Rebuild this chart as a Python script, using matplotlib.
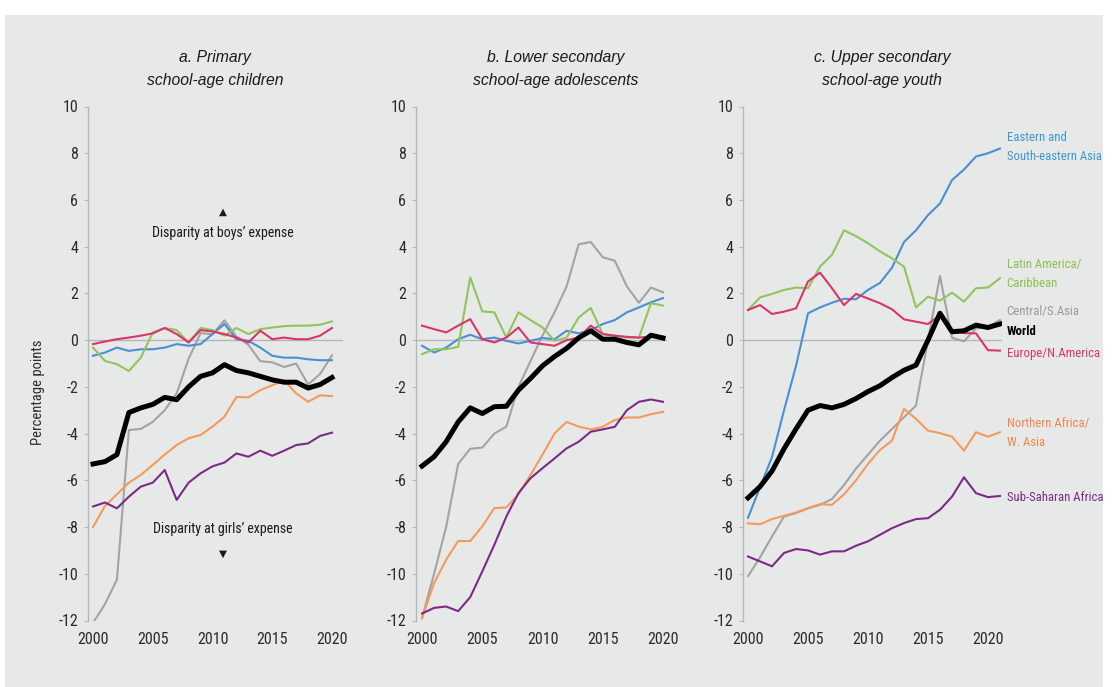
import matplotlib
matplotlib.use("Agg")
import matplotlib.pyplot as plt
from matplotlib.patches import Rectangle
from matplotlib import font_manager as fm

# ---------------- data ----------------
years_ab = list(range(2000, 2021))
years_c = list(range(2000, 2022))

# a. Primary school-age children
a_world = [-5.3, -5.2, -4.9, -3.1, -2.9, -2.75, -2.45, -2.55, -2.0, -1.55, -1.4, -1.05,
           -1.3, -1.4, -1.55, -1.7, -1.8, -1.8, -2.05, -1.9, -1.6]
a_nafrica = [-8.0, -7.1, -6.6, -6.1, -5.77, -5.34, -4.9, -4.49, -4.2, -4.06, -3.7, -3.28,
             -2.43, -2.45, -2.14, -1.93, -1.72, -2.28, -2.64, -2.36, -2.4]
a_ssa = [-7.12, -6.95, -7.2, -6.7, -6.27, -6.1, -5.56, -6.84, -6.1, -5.7, -5.4, -5.24,
         -4.85, -4.99, -4.73, -4.95, -4.73, -4.49, -4.42, -4.1, -3.96]
a_csasia = [-12.1, -11.3, -10.25, -3.85, -3.8, -3.5, -3.0, -2.28, -0.8, 0.3, 0.25, 0.85,
            0.15, -0.2, -0.9, -0.95, -1.15, -1.0, -1.9, -1.45, -0.65]
a_latam = [-0.32, -0.89, -1.03, -1.32, -0.75, 0.33, 0.52, 0.43, -0.1, 0.52, 0.43, 0.19,
           0.52, 0.26, 0.47, 0.54, 0.6, 0.62, 0.62, 0.66, 0.8]
a_europe = [-0.17, -0.06, 0.04, 0.11, 0.19, 0.29, 0.52, 0.26, -0.1, 0.43, 0.37, 0.26,
            0.11, -0.1, 0.4, 0.04, 0.11, 0.04, 0.04, 0.19, 0.52]
a_easia = [-0.67, -0.53, -0.32, -0.46, -0.39, -0.39, -0.32, -0.17, -0.24, -0.17, 0.26, 0.69,
           0.04, -0.03, -0.32, -0.67, -0.75, -0.75, -0.82, -0.86, -0.86]

# b. Lower secondary school-age adolescents
b_world = [-5.39, -4.99, -4.35, -3.5, -2.9, -3.14, -2.85, -2.83, -2.14, -1.64, -1.1, -0.7,
           -0.35, 0.1, 0.4, 0.04, 0.04, -0.1, -0.2, 0.21, 0.09]
b_nafrica = [-11.9, -10.4, -9.4, -8.6, -8.6, -7.97, -7.19, -7.16, -6.6, -5.77, -4.9, -3.99,
             -3.5, -3.7, -3.82, -3.71, -3.42, -3.31, -3.31, -3.17, -3.07]
b_ssa = [-11.7, -11.46, -11.4, -11.6, -11.0, -9.9, -8.76, -7.55, -6.55, -5.91, -5.48, -5.06,
         -4.63, -4.35, -3.92, -3.82, -3.71, -3.0, -2.64, -2.54, -2.64]
b_csasia = [-11.9, -10.0, -8.0, -5.3, -4.65, -4.6, -4.0, -3.7, -2.0, -0.9, 0.2, 1.2,
            2.3, 4.1, 4.2, 3.55, 3.4, 2.3, 1.6, 2.25, 2.05]
b_latam = [-0.6, -0.39, -0.39, -0.29, 2.69, 1.23, 1.19, 0.11, 1.19, 0.86, 0.54, -0.03,
           0.11, 0.97, 1.38, 0.26, 0.19, 0.11, 0.11, 1.58, 1.48]
b_europe = [0.62, 0.47, 0.33, 0.62, 0.9, 0.04, -0.1, 0.11, 0.54, -0.1, -0.17, -0.24,
            0.0, 0.11, 0.62, 0.26, 0.19, 0.14, 0.11, 0.15, 0.15]
b_easia = [-0.24, -0.53, -0.32, 0.04, 0.23, 0.04, 0.11, -0.03, -0.14, -0.03, 0.09, 0.04,
           0.4, 0.29, 0.43, 0.69, 0.86, 1.19, 1.4, 1.62, 1.8]

# c. Upper secondary school-age youth
c_world = [-6.75, -6.27, -5.6, -4.65, -3.8, -3.0, -2.8, -2.9, -2.75, -2.5, -2.2, -1.95,
           -1.6, -1.29, -1.07, 0.0, 1.15, 0.36, 0.4, 0.64, 0.54, 0.69]
c_nafrica = [-7.84, -7.88, -7.66, -7.52, -7.38, -7.19, -7.02, -7.05, -6.6, -6.0, -5.3, -4.7,
             -4.3, -2.94, -3.37, -3.87, -3.98, -4.13, -4.73, -3.94, -4.13, -3.94]
c_ssa = [-9.26, -9.47, -9.68, -9.11, -8.94, -9.0, -9.18, -9.04, -9.04, -8.8, -8.61, -8.33,
         -8.05, -7.83, -7.66, -7.62, -7.26, -6.7, -5.87, -6.55, -6.72, -6.67]
c_csasia = [-10.1, -9.3, -8.4, -7.55, -7.4, -7.2, -7.05, -6.8, -6.2, -5.5, -4.9, -4.3,
            -3.8, -3.3, -2.8, 0.0, 2.75, 0.1, -0.05, 0.5, 0.57, 0.86]
c_latam = [1.29, 1.83, 1.98, 2.15, 2.25, 2.22, 3.15, 3.65, 4.7, 4.45, 4.15, 3.8,
           3.5, 3.15, 1.4, 1.86, 1.69, 2.03, 1.65, 2.22, 2.25, 2.65]
c_europe = [1.29, 1.5, 1.12, 1.22, 1.36, 2.51, 2.89, 2.22, 1.5, 1.98, 1.78, 1.58,
            1.32, 0.89, 0.79, 0.69, 1.07, 0.4, 0.3, 0.29, -0.43, -0.45]
c_easia = [-7.6, -6.3, -5.0, -3.0, -1.1, 1.15, 1.4, 1.6, 1.77, 1.75, 2.15, 2.45,
           3.1, 4.2, 4.7, 5.35, 5.85, 6.85, 7.3, 7.86, 8.0, 8.2]

panel_titles = ["a. Primary\nschool-age children",
                "b. Lower secondary\nschool-age adolescents",
                "c. Upper secondary\nschool-age youth"]
region_labels = ["Eastern and\nSouth-eastern Asia", "Latin America/\nCaribbean", "Central/S.Asia",
                 "World", "Europe/N.America", "Northern Africa/\nW. Asia", "Sub-Saharan Africa"]
region_label_y = [8.25, 2.81, 1.24, 0.38, -0.57, -3.96, -6.73]
yticks = list(range(-12, 11, 2))
xticks = [2000, 2005, 2010, 2015, 2020]
ylabel_text = "Percentage points"
boys_text = "Disparity at boys\u2019 expense"
girls_text = "Disparity at girls\u2019 expense"

# ---------------- fonts ----------------
plt.rcParams['axes.unicode_minus'] = False


def _wnum(w):
    if isinstance(w, str):
        return fm.weight_dict.get(w, 400)
    return w


def find_condensed(bold=False, italic=False):
    prefs = ["Liberation Sans Narrow", "Roboto Condensed", "Open Sans Condensed",
             "Noto Sans", "Open Sans", "Roboto", "DejaVu Sans", "Liberation Sans"]
    cands = []
    for f in fm.fontManager.ttflist:
        cond = f.stretch not in ("normal", "expanded", "semi-expanded", "extra-expanded",
                                 "ultra-expanded", 500, 600, 700, 800, 900) or \
            "Narrow" in f.name or "Condensed" in f.name
        if not cond:
            continue
        if f.name not in prefs:
            continue
        w = _wnum(f.weight)
        if bold and w < 600:
            continue
        if not bold and not (350 <= w <= 500):
            continue
        if italic != (f.style in ("italic", "oblique")):
            continue
        cands.append((prefs.index(f.name), f.fname))
    if cands:
        cands.sort()
        return cands[0][1]
    return None


COND = find_condensed()
COND_B = find_condensed(bold=True)
SHRINK = 1.0 if COND else 0.84


def fp(size, bold=False):
    path = COND_B if bold else COND
    if path:
        return fm.FontProperties(fname=path, size=size)
    return fm.FontProperties(family=["Liberation Sans", "DejaVu Sans"], size=size * SHRINK,
                             weight="bold" if bold else "normal")


plt.rcParams['font.family'] = ['Liberation Sans', 'DejaVu Sans']

BG = "#e7e9e8"
COL = {
    "easia": "#4a8fd4",
    "latam": "#92c45c",
    "csasia": "#a3a3a3",
    "world": "#000000",
    "europe": "#d8356a",
    "nafrica": "#f49a5c",
    "ssa": "#7b2a86",
}
TXT = {
    "easia": "#3b98cf",
    "latam": "#8cc04e",
    "csasia": "#9a9a9a",
    "world": "#000000",
    "europe": "#d8356a",
    "nafrica": "#f0864a",
    "ssa": "#7b2a86",
}

W, H = 1116, 687
fig = plt.figure(figsize=(W / 100, H / 100), dpi=100)
fig.patch.set_facecolor("white")
fig.patches.append(Rectangle((5 / W, 0), (1103 - 5) / W, (H - 15) / H,
                             transform=fig.transFigure, facecolor=BG, edgecolor="none", zorder=-10))

top_px, bot_px = 106.5, 620.5
bottom = 1 - bot_px / H
height = (bot_px - top_px) / H

geoms = [
    (88, 343, 1999.58, 2020.92),
    (416, 667, 1999.50, 2020.33),
    (743, 1002, 1999.58, 2021.17),
]
title_cx = [215, 556, 882]

panels = [
    (years_ab, a_easia, a_latam, a_csasia, a_europe, a_nafrica, a_ssa, a_world),
    (years_ab, b_easia, b_latam, b_csasia, b_europe, b_nafrica, b_ssa, b_world),
    (years_c, c_easia, c_latam, c_csasia, c_europe, c_nafrica, c_ssa, c_world),
]

axes = []
for i, (geom, pdata) in enumerate(zip(geoms, panels)):
    lpx, rpx, x0, x1 = geom
    ax = fig.add_axes([lpx / W, bottom, (rpx - lpx) / W, height])
    ax.set_facecolor("none")
    yrs, easia, latam, csasia, europe, nafrica, ssa, world = pdata
    ax.axhline(0, color="#b5b7b7", lw=1.0, zorder=1)
    for key, vals in [("csasia", csasia), ("nafrica", nafrica), ("ssa", ssa),
                      ("easia", easia), ("latam", latam), ("europe", europe)]:
        ax.plot(yrs, vals, color=COL[key], lw=1.5, zorder=2, solid_joinstyle="round")
    ax.plot(yrs, world, color=COL["world"], lw=3.6, zorder=3, solid_joinstyle="round")
    ax.set_xlim(x0, x1)
    ax.set_ylim(-12, 10)
    ax.set_yticks(yticks)
    ax.set_xticks(xticks)
    for s in ["top", "right", "bottom"]:
        ax.spines[s].set_visible(False)
    ax.spines["left"].set_color("#b5b7b7")
    ax.spines["left"].set_linewidth(1.0)
    ax.tick_params(axis="y", direction="out", length=3, width=0.8, color="#b5b7b7",
                   labelcolor="#2b2b2b", pad=4)
    ax.tick_params(axis="x", length=0, labelcolor="#2b2b2b", pad=8)
    for lab in ax.get_xticklabels() + ax.get_yticklabels():
        lab.set_fontproperties(fp(11.5))
    fig.text(title_cx[i] / W, 1 - 69 / H, panel_titles[i], ha="center", va="center",
             fontsize=11.3, style="italic", color="#1a1a1a", linespacing=1.7,
             family=["Liberation Sans", "DejaVu Sans"])
    axes.append(ax)

# y label
fig.text(38 / W, 1 - 392 / H, ylabel_text, rotation=90, ha="center", va="center",
         fontproperties=fp(10.5), color="#2b2b2b")

# panel a annotations
ax = axes[0]
ax.text(2010.88, 5.49, "\u25b2", ha="center", va="center", fontsize=7.5, color="#1a1a1a",
        family="DejaVu Sans")
ax.text(2010.88, 4.59, boys_text, ha="center", va="center", fontproperties=fp(10),
        color="#1a1a1a")
ax.text(2010.88, -8.1, girls_text, ha="center", va="center", fontproperties=fp(10),
        color="#1a1a1a")
ax.text(2010.88, -9.16, "\u25bc", ha="center", va="center", fontsize=7.5, color="#1a1a1a",
        family="DejaVu Sans")

# panel c labels
ax = axes[2]
keys = ["easia", "latam", "csasia", "world", "europe", "nafrica", "ssa"]
for lab, yv, key in zip(region_labels, region_label_y, keys):
    ax.text(2021.55, yv, lab, ha="left", va="center", color=TXT[key],
            fontproperties=fp(9.2, bold=(key == "world")), linespacing=1.6,
            clip_on=False)

fig.savefig("out.png", dpi=100, facecolor=fig.get_facecolor())
